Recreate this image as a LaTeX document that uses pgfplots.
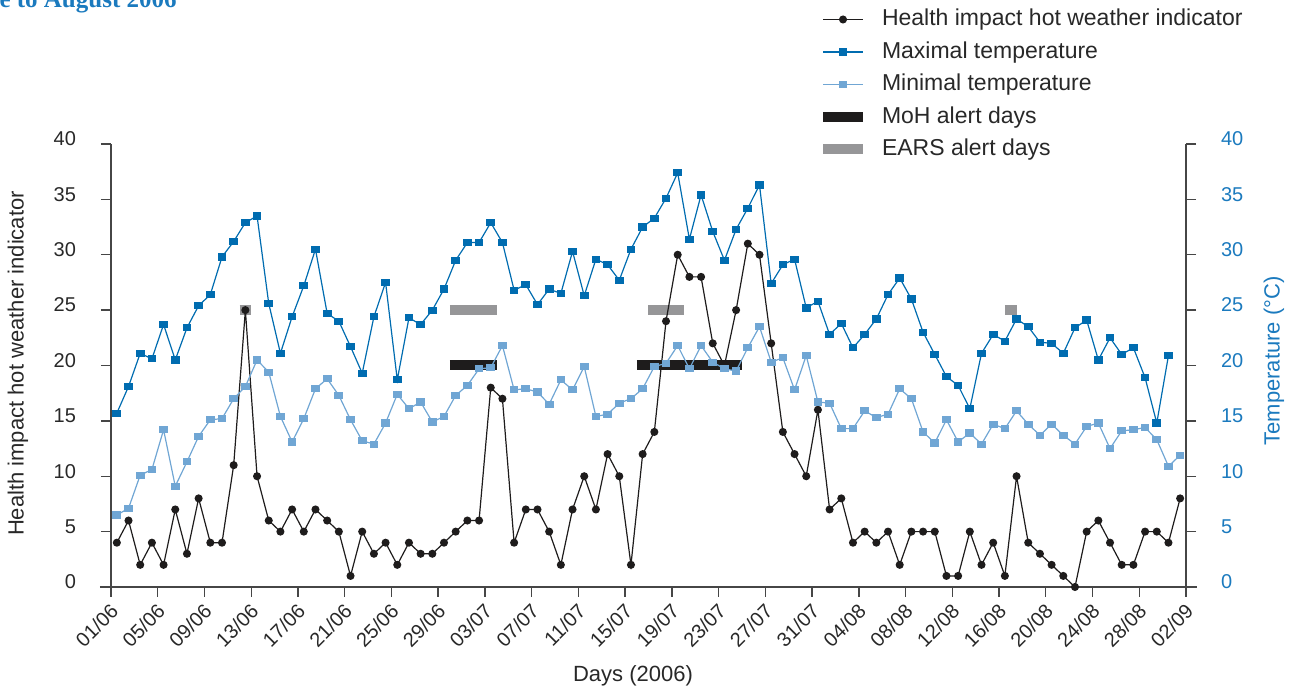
\documentclass[border=0pt]{standalone}
\usepackage{fontspec}
\setmainfont{Liberation Sans}
\newfontfamily\titlefont{Liberation Serif}
\usepackage{pgfplots}
\usepackage{pgfplotstable}
\pgfplotsset{compat=1.18}

\definecolor{tmaxblue}{RGB}{0,108,176}
\definecolor{tminblue}{RGB}{112,166,212}
\definecolor{indic}{RGB}{30,28,28}
\definecolor{earsgray}{RGB}{150,150,152}
\definecolor{axisblue}{RGB}{27,122,190}
\definecolor{axisgray}{RGB}{70,70,70}
\definecolor{txt}{RGB}{40,40,40}

% day index (point drawn at j+0.5), indicator, max and min temperature
\pgfplotstableread{
x    ind tmax tmin
0.5  4   15.7 6.5
1.5  6   18.1 7.1
2.5  2   21.1 10.1
3.5  4   20.6 10.6
4.5  2   23.7 14.2
5.5  7   20.5 9.1
6.5  3   23.4 11.3
7.5  8   25.4 13.6
8.5  4   26.4 15.1
9.5  4   29.8 15.2
10.5 11  31.2 17.0
11.5 25  32.9 18.1
12.5 10  33.5 20.5
13.5 6   25.6 19.4
14.5 5   21.1 15.4
15.5 7   24.4 13.1
16.5 5   27.2 15.2
17.5 7   30.5 17.9
18.5 6   24.7 18.8
19.5 5   24.0 17.3
20.5 1   21.7 15.1
21.5 5   19.3 13.2
22.5 3   24.4 12.9
23.5 4   27.5 14.8
24.5 2   18.7 17.4
25.5 4   24.3 16.1
26.5 3   23.7 16.7
27.5 3   25.0 14.9
28.5 4   26.9 15.4
29.5 5   29.5 17.3
30.5 6   31.1 18.2
31.5 6   31.1 19.7
32.5 18  32.9 19.8
33.5 17  31.1 21.8
34.5 4   26.8 17.8
35.5 7   27.3 17.9
36.5 7   25.5 17.6
37.5 5   26.9 16.5
38.5 2   26.5 18.7
39.5 7   30.3 17.8
40.5 10  26.3 19.9
41.5 7   29.6 15.4
42.5 12  29.1 15.6
43.5 10  27.7 16.6
44.5 2   30.5 17.0
45.5 12  32.5 17.9
46.5 14  33.3 19.9
47.5 24  35.1 20.2
48.5 30  37.4 21.8
49.5 28  31.4 19.7
50.5 28  35.4 21.8
51.5 22  32.1 20.3
52.5 20  29.5 19.7
53.5 25  32.3 19.5
54.5 31  34.2 21.6
55.5 30  36.3 23.5
56.5 22  27.4 20.3
57.5 14  29.1 20.7
58.5 12  29.6 17.8
59.5 10  25.2 20.9
60.5 16  25.8 16.7
61.5 7   22.8 16.6
62.5 8   23.8 14.3
63.5 4   21.6 14.3
64.5 5   22.8 15.9
65.5 4   24.2 15.3
66.5 5   26.4 15.6
67.5 2   27.9 17.9
68.5 5   26.0 17.0
69.5 5   23.0 14.0
70.5 5   21.0 13.0
71.5 1   19.0 15.1
72.5 1   18.2 13.1
73.5 5   16.1 13.9
74.5 2   21.1 12.9
75.5 4   22.8 14.7
76.5 1   22.2 14.3
77.5 10  24.2 15.9
78.5 4   23.5 14.7
79.5 3   22.1 13.7
80.5 2   22.0 14.7
81.5 1   21.1 13.7
82.5 0   23.4 12.9
83.5 5   24.1 14.5
84.5 6   20.5 14.8
85.5 4   22.5 12.5
86.5 2   21.0 14.1
87.5 2   21.6 14.2
88.5 5   18.9 14.4
89.5 5   14.8 13.3
90.5 4   20.9 10.9
91.5 8   nan  11.9
}\weather

\begin{document}
\begin{tikzpicture}
\useasboundingbox (0,0) rectangle (646pt,344pt);
\node[anchor=base east, inner sep=0pt, text=axisblue, font=\titlefont\bfseries\fontsize{12.5}{14}\selectfont]
  at (88.5pt,340pt) {June to August 2006};

\pgfplotsset{
  common/.style={
    scale only axis, width=537.5pt, height=221.5pt,
    at={(55.5pt,50.5pt)}, anchor=south west,
    xmin=0, xmax=92, ymin=0, ymax=40,
    ytick={0,5,...,40},
    tick align=outside, major tick length=5pt,
    axis line style={-, draw=axisgray, line width=0.7pt},
    major tick style={draw=axisgray, line width=0.7pt},
    /pgf/number format/assume math mode=true,
  },
}

\begin{axis}[common,
  axis x line*=bottom, axis y line*=left,
  x axis line style={shorten <=-5.5pt, shorten >=-5.5pt},
  xtick={0,4,...,92},
  xticklabels={01/06,05/06,09/06,13/06,17/06,21/06,25/06,29/06,03/07,07/07,11/07,15/07,
    19/07,23/07,27/07,31/07,04/08,08/08,12/08,16/08,20/08,24/08,28/08,02/09},
  xticklabel style={rotate=45, anchor=east, text=txt, font=\fontsize{10}{12}\selectfont, xshift=1pt, yshift=-5pt},
  yticklabel style={text=txt, font=\fontsize{10}{12}\selectfont, xshift=-9pt, yshift=2.5pt},
  xlabel={Days (2006)},
  ylabel={Health impact hot weather indicator},
  label style={text=txt, font=\fontsize{11}{13}\selectfont},
  x label style={at={(axis description cs:0.4856,-0.2009)}, anchor=center},
  y label style={at={(axis description cs:-0.0865,0.5045)}, anchor=center},
  legend cell align=left,
  legend image code/.code={\draw[mark repeat=2,mark phase=2,#1] plot coordinates {(0pt,0pt) (10pt,0pt) (20pt,0pt)};},
  legend style={at={(axis description cs:0.6577,1.307)}, anchor=north west,
    draw=none, fill=none, inner sep=0pt, outer sep=0pt, row sep=4.75pt,
    font=\fontsize{11.5}{13}\selectfont, text=txt,
    nodes={inner sep=0pt, text height=9pt, text depth=2.5pt},
    /tikz/every odd column/.append style={column sep=7pt}},
  unbounded coords=jump,
]
% alert day bars (drawn first so the lines sit on top)
\addplot[forget plot, earsgray, line width=5pt] coordinates {
  (11,25) (12,25) (12,nan) (29,25) (33,25) (33,nan) (46,25) (49,25) (49,nan) (76.5,25) (77.5,25)};
\addplot[forget plot, indic, line width=5pt] coordinates {
  (29,20) (33,20) (33,nan) (45,20) (54,20)};

\addplot[indic, line width=0.6pt, mark=*, mark size=1.7pt] table[x=x, y=ind] {\weather};
\addlegendentry{Health impact hot weather indicator}
\addplot[tmaxblue, line width=0.6pt, mark=square*, mark size=1.5pt, mark options={xscale=1.25}] table[x=x, y=tmax] {\weather};
\addlegendentry{Maximal temperature}
\addplot[tminblue, line width=0.6pt, mark=square*, mark size=1.5pt, mark options={xscale=1.25}] table[x=x, y=tmin] {\weather};
\addlegendentry{Minimal temperature}
\addlegendimage{indic, line width=5pt}
\addlegendentry{MoH alert days}
\addlegendimage{earsgray, line width=5pt}
\addlegendentry{EARS alert days}
\end{axis}

\begin{axis}[common,
  axis x line=none, axis y line*=right,
  yticklabel style={text=axisblue, font=\fontsize{10}{12}\selectfont, xshift=9pt, yshift=2.5pt},
  ylabel={Temperature (°C)},
  y label style={text=axisblue, font=\fontsize{11}{13}\selectfont,
    at={(axis description cs:1.0819,0.510)}, anchor=center},
]
\end{axis}
\end{tikzpicture}
\end{document}
